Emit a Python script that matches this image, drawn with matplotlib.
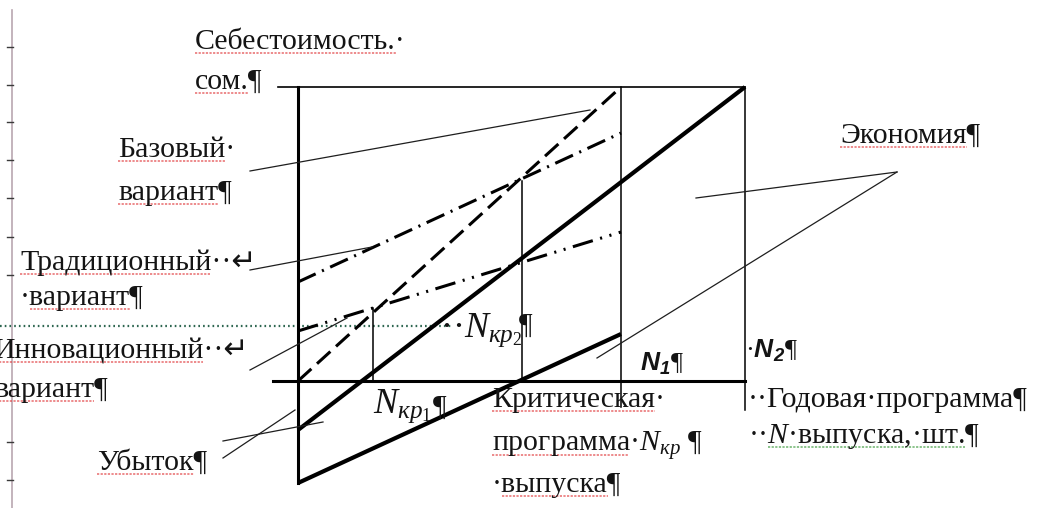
#!/usr/bin/env python3
"""Break-even diagram: cost of the base, traditional and innovative variants."""

import matplotlib

matplotlib.use("Agg")
import matplotlib.pyplot as plt

plt.rcParams["font.family"] = ["Liberation Serif", "DejaVu Sans"]
plt.rcParams["mathtext.fontset"] = "custom"
plt.rcParams["mathtext.rm"] = "Liberation Serif"
plt.rcParams["mathtext.it"] = "Liberation Serif:italic"
plt.rcParams["mathtext.bfit"] = "Liberation Sans:italic:bold"
plt.rcParams["lines.scale_dashes"] = False

W, H = 1038, 508
X0, Y0 = 298, 381  # where the two axes cross, in picture pixels

# programme N and cost (origin at the axes crossing)
N_KP = [75, 224]          # critical programmes N_kp1, N_kp2
KP_TOP = [73, 200]        # height of the drop lines
N1, N2 = 323, 447
C_TOP = 294
C_BOTTOM = -102

base_n, base_c = [0, N1], [0, 294]          # dashed
trad_n, trad_c = [0, N1], [99, 248]         # dash-dot
innov_n, innov_c = [0, N1], [50, 149]       # dash-dot-dot
upper_n, upper_c = [0, N2], [-49, 294]      # thick
lower_n, lower_c = [0, N1], [-102, 47]      # thick

# leader lines from the labels
leaders = [
    ([-48, 292], [210, 271]),   # Базовый
    ([-48, 74], [111, 134]),    # Традиционный
    ([-48, 49], [11, 63]),      # Инновационный
    ([-75, 25], [-60, -41]),    # Убыток
    ([-75, -3], [-77, -29]),
    ([599, 398], [209, 183]),   # Экономия
    ([599, 299], [209, 23]),
]

ruler_ticks = [47, 85, 122, 160, 198, 237, 275, 442, 480]

FS = 21.5


def put(px, py, s, **kw):
    kw.setdefault("fontsize", FS)
    kw.setdefault("color", "#141414")
    return ax.text(px - X0, Y0 - py, s, ha="left", va="baseline", **kw)


fig = plt.figure(figsize=(W / 100, H / 100), dpi=100)
ax = fig.add_axes([0, 0, 1, 1])
ax.set_xlim(-X0, W - X0)
ax.set_ylim(Y0 - H, Y0)
ax.axis("off")

# word ruler on the left edge
ax.plot([12 - X0, 12 - X0], [Y0 - 10, Y0 - H], color="#b9a7b0", lw=1.2)
for t in ruler_ticks:
    ax.plot([7 - X0, 13 - X0], [Y0 - t, Y0 - t], color="#3a3a3a", lw=1.0)

# dotted paragraph border
ax.plot([-X0, 154], [55, 55], color="#2d6650", lw=1.6, ls=(0, (1.2, 2.2)))

# frame
ax.plot([-20, N2], [C_TOP, C_TOP], color="black", lw=1.2)
ax.plot([-25, N2], [0, 0], color="black", lw=2.2)
ax.plot([0, 0], [C_BOTTOM, C_TOP], color="black", lw=2.2)
ax.plot([N1, N1], [-26, C_TOP], color="black", lw=1.1)
ax.plot([N2, N2], [-29, C_TOP], color="black", lw=1.1)
for n, top in zip(N_KP, KP_TOP):
    ax.plot([n, n], [0, top], color="black", lw=1.1)

# cost lines
ax.plot(base_n, base_c, color="black", lw=2.2, ls=(0, (13, 5.5)))
ax.plot(trad_n, trad_c, color="black", lw=2.2,
        ls=(0, (14, 5, 1.5, 5)))
ax.plot(innov_n, innov_c, color="black", lw=2.2,
        ls=(0, (15, 5.5, 1.5, 5.5, 1.5, 5.5)))
ax.plot(upper_n, upper_c, color="black", lw=3.0, solid_capstyle="butt")
ax.plot(lower_n, lower_c, color="black", lw=3.0, solid_capstyle="butt")

for xs, ys in leaders:
    ax.plot(xs, ys, color="#1e1e1e", lw=0.9)

# labels; (text, part before the marked word, part through the word)
marked = []
marked.append((put(195, 49, "Себестоимость.·"), "", "Себестоимость."))
marked.append((put(195, 89, "сом.¶"), "", "сом."))
marked.append((put(118, 157, "Базовый·"), "", "Базовый"))
marked.append((put(118, 200, "вариант¶"), "", "вариант"))
marked.append((put(20, 270, "Традиционный··↵"), "", "Традиционный"))
marked.append((put(20, 305, "·вариант¶"), "·", "·вариант"))
marked.append((put(-7, 358, "Инновационный··↵"), "", "Инновационный"))
marked.append((put(-6, 397, "вариант¶"), "", "вариант"))
marked.append((put(97, 470, "Убыток¶"), "", "Убыток"))
marked.append((put(840, 143, "Экономия¶"), "", "Экономия"))

put(440, 337, "··$N_{кр_2}$", fontsize=26)
put(519, 333, "¶")
put(373, 413, "$N_{кр_1}$", fontsize=26)
put(433, 415, "¶")

marked.append((put(492, 407, "Критическая·"), "", "Критическая"))
marked.append((put(492, 451, "программа·$N_{кр}$ ¶"), "", "программа"))
marked.append((put(492, 492, "·выпуска¶"), "·", "·выпуска"))

put(640, 371, r"$\mathbfit{N_1}$¶", fontsize=19)
put(745, 358, r"·$\mathbfit{N_2}$¶", fontsize=19)
put(748, 407, "··Годовая·программа¶")
green = put(748, 443, "··$N$·выпуска,·шт.¶")

# spell-check underlines under the words, as in the word screenshot
fig.canvas.draw()
renderer = fig.canvas.get_renderer()


def text_width(s):
    if not s:
        return 0.0
    tmp = ax.text(0, 0, s, fontsize=FS)
    w = tmp.get_window_extent(renderer).width
    tmp.remove()
    return w


def underline(t, before, through, color):
    x, y = t.get_position()
    x1 = x + text_width(before)
    x2 = x + text_width(through)
    ax.plot([x1, x2], [y - 3.5, y - 3.5], color=color, lw=1.1,
            ls=(0, (1.6, 1.0)), alpha=0.75)


for t, before, through in marked:
    underline(t, before, through, "#e0393c")
underline(green, "··", "··$N$·выпуска,·шт.", "#3c9a3c")

fig.savefig("out.png", dpi=100, facecolor="white")
